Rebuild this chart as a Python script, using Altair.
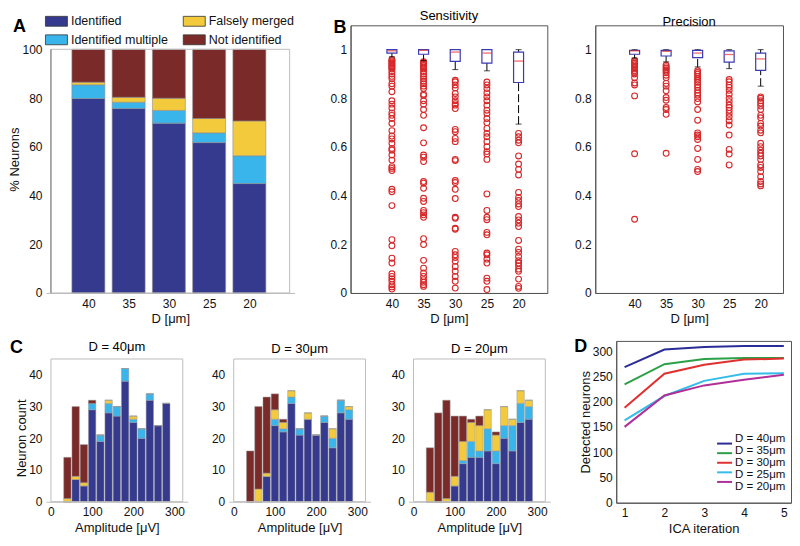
import altair as alt
import pandas as pd

FONT = "Liberation Sans"

# ---------------- data ----------------
D_LABELS = ["40", "35", "30", "25", "20"]
CATS = ["Identified", "Identified multiple", "Falsely merged", "Not identified"]
CAT_COLORS = ["#353a8e", "#3ab5ec", "#f2ca3b", "#7a2b29"]

# Panel A (% neurons)
A_IDENT = [79.8, 75.7, 69.7, 61.7, 44.9]
A_MULTI = [5.6, 2.6, 5.2, 4.0, 11.4]
A_MERGED = [1.1, 2.0, 5.0, 5.9, 14.3]
A_NOTID = [13.5, 19.7, 20.1, 28.4, 29.4]

# Panel B sensitivity boxplots
SENS_Q1 = [0.986, 0.981, 0.952, 0.945, 0.865]
SENS_MED = [0.995, 0.997, 0.990, 0.986, 0.953]
SENS_Q3 = [1.0, 1.0, 1.0, 1.0, 0.990]
SENS_LO = [0.970, 0.955, 0.918, 0.913, 0.694]
SENS_HI = [1.0, 1.0, 1.0, 1.0, 1.0]
SENS_OUT = [
    [0.96, 0.955, 0.95, 0.945, 0.94, 0.935, 0.93, 0.925, 0.92, 0.91, 0.90, 0.89, 0.88, 0.86, 0.85,
     0.827, 0.79, 0.776, 0.76, 0.74, 0.73, 0.717, 0.697, 0.667, 0.645, 0.633, 0.615, 0.594, 0.587,
     0.567, 0.546, 0.519, 0.512, 0.503, 0.426, 0.416, 0.359, 0.219, 0.194, 0.143, 0.123, 0.079,
     0.068, 0.058, 0.048, 0.034, 0.025, 0.016],
    [0.95, 0.945, 0.94, 0.935, 0.93, 0.925, 0.92, 0.91, 0.90, 0.89, 0.88, 0.87, 0.86, 0.85, 0.84,
     0.817, 0.812, 0.79, 0.776, 0.754, 0.73, 0.679, 0.617, 0.567, 0.558, 0.54, 0.458, 0.451, 0.43,
     0.389, 0.376, 0.339, 0.33, 0.321, 0.311, 0.223, 0.199, 0.134, 0.102, 0.082, 0.068, 0.055,
     0.044, 0.034, 0.027],
    [0.874, 0.868, 0.855, 0.842, 0.82, 0.806, 0.79, 0.778, 0.772, 0.758, 0.672, 0.663, 0.635, 0.622,
     0.549, 0.544, 0.462, 0.454, 0.426, 0.388, 0.311, 0.307, 0.266, 0.262, 0.171, 0.157, 0.146,
     0.13, 0.109, 0.089, 0.068, 0.048, 0.02],
    [0.867, 0.855, 0.84, 0.822, 0.806, 0.79, 0.772, 0.751, 0.738, 0.717, 0.70, 0.676, 0.656, 0.642,
     0.622, 0.601, 0.581, 0.571, 0.549, 0.407, 0.339, 0.311, 0.301, 0.249, 0.239, 0.164, 0.157,
     0.139, 0.123, 0.061, 0.048, 0.014],
    [0.656, 0.642, 0.628, 0.617, 0.563, 0.53, 0.508, 0.485, 0.413, 0.393, 0.38, 0.366, 0.355, 0.314,
     0.30, 0.287, 0.273, 0.216, 0.18, 0.167, 0.15, 0.133, 0.123, 0.112, 0.098, 0.089, 0.057, 0.027,
     0.019],
]

# Panel B precision boxplots
PREC_Q1 = [0.981, 0.974, 0.967, 0.949, 0.915]
PREC_MED = [0.995, 0.993, 0.986, 0.980, 0.962]
PREC_Q3 = [0.997, 0.997, 0.997, 0.995, 0.986]
PREC_LO = [0.965, 0.950, 0.929, 0.922, 0.850]
PREC_HI = [1.0, 1.0, 1.0, 1.0, 1.0]
PREC_OUT = [
    [0.956, 0.95, 0.944, 0.938, 0.932, 0.926, 0.92, 0.913, 0.906, 0.90, 0.885, 0.863, 0.855, 0.81,
     0.572, 0.303],
    [0.936, 0.93, 0.924, 0.918, 0.912, 0.905, 0.895, 0.885, 0.861, 0.85, 0.831, 0.803, 0.792, 0.762,
     0.754, 0.734, 0.574],
    [0.913, 0.906, 0.899, 0.89, 0.882, 0.874, 0.866, 0.855, 0.845, 0.833, 0.822, 0.813, 0.799, 0.785,
     0.754, 0.71, 0.658, 0.649, 0.642, 0.631, 0.594, 0.549, 0.508, 0.499],
    [0.877, 0.868, 0.855, 0.845, 0.833, 0.817, 0.799, 0.786, 0.772, 0.762, 0.751, 0.738, 0.724, 0.708,
     0.69, 0.649, 0.59, 0.571, 0.526],
    [0.806, 0.8, 0.79, 0.78, 0.768, 0.754, 0.73, 0.72, 0.697, 0.686, 0.669, 0.658, 0.615, 0.601,
     0.587, 0.574, 0.563, 0.549, 0.526, 0.516, 0.499, 0.478, 0.458, 0.448, 0.44],
]

# Panel C histograms (bin centres in µV)
AMP_BINS = [40, 60, 80, 100, 120, 140, 160, 180, 200, 220, 240, 260, 280]
C40_IDENT = [0, 7, 5, 29, 19, 28, 27, 38, 25, 20, 32, 24, 31]
C40_MULTI = [0, 0, 0, 2, 2, 3, 3, 4, 1, 3, 2, 0, 0]
C40_MERGED = [1, 1, 1, 0, 0, 1, 0, 0, 1, 0, 0, 0, 0]
C40_NOTID = [13, 22, 12, 1, 0, 0, 0, 0, 0, 0, 0, 0, 0]
C30_IDENT = [0, 0, 8, 24, 22, 31, 21, 26, 21, 25, 17, 28, 26]
C30_MULTI = [0, 0, 0, 2, 1, 2, 2, 0, 0, 2, 3, 4, 3]
C30_MERGED = [0, 4, 1, 3, 2, 2, 0, 2, 0, 0, 3, 0, 1]
C30_NOTID = [16, 26, 24, 5, 1, 0, 0, 0, 0, 0, 0, 0, 0]
C20_IDENT = [0, 0, 0, 5, 12, 14, 14, 16, 12, 20, 16, 25, 26]
C20_MULTI = [0, 0, 0, 0, 1, 5, 2, 7, 4, 4, 8, 6, 4]
C20_MERGED = [3, 0, 1, 3, 6, 6, 8, 6, 5, 6, 2, 4, 2]
C20_NOTID = [14, 28, 31, 19, 8, 1, 3, 0, 1, 0, 0, 0, 0]

# Panel D
ITER = [1, 2, 3, 4, 5]
D_SERIES = ["D = 40μm", "D = 35μm", "D = 30μm", "D = 25μm", "D = 20μm"]
D_COLORS = ["#2b2d96", "#2ca048", "#e0302f", "#34bde9", "#b0309a"]
D40 = [268, 303, 308, 310, 310]
D35 = [234, 274, 284, 286, 286]
D30 = [188, 255, 273, 283, 285]
D25 = [163, 211, 241, 255, 256]
D20 = [150, 212, 232, 243, 253]

RED = "#d7282a"
BOXBLUE = "#3b3bb3"
LIGHT = "#bdbdbd"
DARK = "#555555"

label_expr = "[" + ",".join("'%s'" % d for d in D_LABELS) + "][datum.value - 1]"
cat_scale = alt.Scale(domain=CATS, range=CAT_COLORS)


def letter(ch, dx, dy):
    return alt.Chart(pd.DataFrame({"t": [ch]})).mark_text(
        font=FONT, fontSize=18, fontWeight="bold", align="left", baseline="alphabetic", color="black"
    ).encode(x=alt.value(dx), y=alt.value(dy), text="t:N")


def frame(xdom, ydom, xs, xa, ys, ya, color, left_color=None):
    df = pd.DataFrame({"x0": [xdom[0]], "x1": [xdom[1]], "y0": [ydom[0]], "y1": [ydom[1]]})
    rect = alt.Chart(df).mark_rect(fillOpacity=0, stroke=color, strokeWidth=1).encode(
        x=alt.X("x0:Q", scale=xs, axis=xa), x2="x1:Q",
        y=alt.Y("y0:Q", scale=ys, axis=ya), y2="y1:Q")
    out = [rect]
    if left_color is not None:
        out.append(alt.Chart(df).mark_rule(color=left_color, strokeWidth=1).encode(
            x=alt.X("x0:Q", scale=xs, axis=xa),
            y=alt.Y("y0:Q", scale=ys, axis=ya), y2="y1:Q"))
    return out


# ---------------- Panel A ----------------
A_XDOM = [0.07, 6.0]
dfA = pd.DataFrame([
    {"pos": i + 1, "cat": c, "k": k, "v": vals[i]}
    for k, (c, vals) in enumerate(zip(CATS, [A_IDENT, A_MULTI, A_MERGED, A_NOTID]))
    for i in range(5)
])
xsA = alt.Scale(domain=A_XDOM, nice=False, zero=False)
xaA = alt.Axis(values=[1, 2, 3, 4, 5], labelExpr=label_expr, title="D [μm]",
               domainColor=LIGHT, labelPadding=6, titlePadding=3)
ysA = alt.Scale(domain=[0, 109.84], nice=False)
yaA = alt.Axis(values=[0, 20, 40, 60, 80, 100], title="% Neurons", domain=False,
               titlePadding=0, titleY=134)
barsA = alt.Chart(dfA).mark_bar(size=33, stroke="#8c8c8c", strokeWidth=0.6, orient="vertical").encode(
    x=alt.X("pos:Q", scale=xsA, axis=xaA),
    y=alt.Y("v:Q", stack="zero", scale=ysA, axis=yaA),
    color=alt.Color("cat:N", scale=cat_scale, legend=alt.Legend(
        title=None, orient="none", legendX=-1, legendY=-16, padding=0, columns=2,
        columnPadding=12, rowPadding=0, symbolType="M-1,-0.45H1V0.45H-1Z", symbolSize=484,
        symbolStrokeColor="#333", symbolStrokeWidth=0.8, labelFontSize=12.5, labelFont=FONT,
        labelOffset=3, symbolOpacity=1)),
    order=alt.Order("k:Q"),
)
panelA = alt.layer(barsA, *frame(A_XDOM, [0, 100], xsA, xaA, ysA, yaA, LIGHT, "#777"),
                   letter("A", -33, 7)).properties(
    width=249, height=268, view=alt.ViewBackground(stroke=None))


# ---------------- Panel B ----------------
def box_panel(title, q1, med, q3, lo, hi, outs, domain, width, let=None):
    dfb = pd.DataFrame({"pos": [1, 2, 3, 4, 5], "q1": q1, "med": med, "q3": q3, "lo": lo, "hi": hi})
    dfo = pd.DataFrame([{"pos": i + 1, "val": v} for i, lst in enumerate(outs) for v in lst])
    xs = alt.Scale(domain=domain, nice=False, zero=False)
    xa = alt.Axis(values=[1, 2, 3, 4, 5], labelExpr=label_expr, title="D [μm]", domainColor=DARK,
                  labelPadding=6, titlePadding=3)
    ys = alt.Scale(domain=[0, 1.1], nice=False)
    ya = alt.Axis(values=[0, 0.2, 0.4, 0.6, 0.8, 1.0], format="~g", title=None, domainColor=DARK)
    X = alt.X("pos:Q", scale=xs, axis=xa)
    base = alt.Chart(dfb)
    outl = alt.Chart(dfo).mark_point(shape="circle", filled=False, color=RED, size=34,
                                     strokeWidth=1.1, opacity=1).encode(
        x=X, y=alt.Y("val:Q", scale=ys, axis=ya))
    wlo = base.mark_rule(color="black", strokeWidth=1, strokeDash=[8, 3]).encode(
        x=X, y=alt.Y("lo:Q", scale=ys, axis=ya), y2="q1:Q")
    whi = base.mark_rule(color="black", strokeWidth=1, strokeDash=[8, 3]).encode(
        x=X, y=alt.Y("q3:Q", scale=ys, axis=ya), y2="hi:Q")
    cap_lo = base.mark_tick(orient="horizontal", size=6, thickness=1, color="black").encode(
        x=X, y=alt.Y("lo:Q", scale=ys, axis=ya))
    cap_hi = base.mark_tick(orient="horizontal", size=6, thickness=1, color="black").encode(
        x=X, y=alt.Y("hi:Q", scale=ys, axis=ya))
    box = base.mark_bar(size=10, fill="white", stroke=BOXBLUE, strokeWidth=1.2, orient="vertical").encode(
        x=X, y=alt.Y("q1:Q", scale=ys, axis=ya), y2="q3:Q")
    medm = base.mark_tick(orient="horizontal", size=9, thickness=1.3, color="#e8302e").encode(
        x=X, y=alt.Y("med:Q", scale=ys, axis=ya))
    layers = [outl, wlo, whi, cap_lo, cap_hi, box, medm]
    if let is not None:
        layers.append(let)
    return alt.layer(*layers).properties(
        width=width, height=268,
        title=alt.TitleParams(title, font=FONT, fontSize=13, fontWeight="normal", offset=-4))


panelBs = box_panel("Sensitivity", SENS_Q1, SENS_MED, SENS_Q3, SENS_LO, SENS_HI, SENS_OUT,
                    [-0.148, 5.75], 197, letter("B", -17, 8))
panelBp = box_panel("Precision", PREC_Q1, PREC_MED, PREC_Q3, PREC_LO, PREC_HI, PREC_OUT,
                    [-0.09, 5.55], 188)


# ---------------- Panel C ----------------
C_XDOM = [0, 320]


def hist_panel(title, ident, multi, merged, notid, ytitle, let=None):
    df = pd.DataFrame([
        {"amp": AMP_BINS[i], "cat": c, "k": k, "n": vals[i]}
        for k, (c, vals) in enumerate(zip(CATS, [ident, multi, merged, notid]))
        for i in range(len(AMP_BINS))
    ])
    xs = alt.Scale(domain=C_XDOM, nice=False, zero=False)
    xa = alt.Axis(values=[0, 100, 200, 300], title="Amplitude [μV]", domainColor=LIGHT,
                  labelPadding=5, titlePadding=4)
    ys = alt.Scale(domain=[0, 50.7], nice=False)
    ya = alt.Axis(values=[0, 10, 20, 30, 40], title=ytitle, domain=False, titlePadding=0, titleY=97)
    bars = alt.Chart(df).mark_bar(size=7.4, stroke="#9a9a9a", strokeWidth=0.5, orient="vertical").encode(
        x=alt.X("amp:Q", scale=xs, axis=xa),
        y=alt.Y("n:Q", stack="zero", scale=ys, axis=ya),
        color=alt.Color("cat:N", scale=cat_scale, legend=None),
        order=alt.Order("k:Q"),
    )
    layers = [bars] + frame(C_XDOM, [0, 45], xs, xa, ys, ya, LIGHT)
    if let is not None:
        layers.append(let)
    return alt.layer(*layers).properties(
        width=142, height=161, view=alt.ViewBackground(stroke=None),
        title=alt.TitleParams(title, font=FONT, fontSize=13, fontWeight="normal", offset=-15,
                              frame="group"))


panelC1 = hist_panel("D = 40μm", C40_IDENT, C40_MULTI, C40_MERGED, C40_NOTID, "Neuron count",
                     letter("C", -36, 12))
panelC2 = hist_panel("D = 30μm", C30_IDENT, C30_MULTI, C30_MERGED, C30_NOTID, None)
panelC3 = hist_panel("D = 20μm", C20_IDENT, C20_MULTI, C20_MERGED, C20_NOTID, None)

# ---------------- Panel D ----------------
dfD = pd.DataFrame([
    {"it": it, "n": v, "s": s}
    for s, vals in zip(D_SERIES, [D40, D35, D30, D25, D20])
    for it, v in zip(ITER, vals)
])
d_color = alt.Scale(domain=D_SERIES, range=D_COLORS)
linesD = alt.Chart(dfD).mark_line(strokeWidth=2).encode(
    x=alt.X("it:Q", scale=alt.Scale(domain=[0.79, 5.18], nice=False, zero=False),
            axis=alt.Axis(values=ITER, format="d", title="ICA iteration", domainColor=DARK,
                          labelPadding=5, titlePadding=4)),
    y=alt.Y("n:Q", scale=alt.Scale(domain=[0, 320], nice=False),
            axis=alt.Axis(values=[0, 50, 100, 150, 200, 250, 300], title="Detected neurons",
                          domainColor=DARK, titlePadding=0)),
    color=alt.Color("s:N", scale=d_color, legend=None),
)
# legend drawn from the series list: one row per series
dfLeg = pd.DataFrame({"s": D_SERIES})
leg_y = alt.Y("s:N", scale=alt.Scale(domain=D_SERIES, range=[98, 146], padding=0), axis=None)
legLines = alt.Chart(dfLeg).mark_rule(strokeWidth=2).encode(
    x=alt.value(101), x2=alt.value(116), y=leg_y, color=alt.Color("s:N", scale=d_color, legend=None))
legText = alt.Chart(dfLeg).mark_text(font=FONT, fontSize=11.5, align="left", baseline="middle",
                                     color="#111").encode(x=alt.value(119), y=leg_y, text="s:N")
panelD = alt.layer(linesD, legLines, legText, letter("D", -42, 11)).resolve_scale(
    y="independent").properties(width=175, height=162)

# ---------------- layout ----------------
top = alt.hconcat(
    panelA,
    alt.hconcat(panelBs, panelBp, spacing=25).resolve_scale(color="independent"),
    spacing=34,
).resolve_scale(color="independent")

bottom = alt.hconcat(
    panelC1,
    alt.hconcat(panelC2, panelC3, spacing=20).resolve_scale(color="independent"),
    panelD,
    spacing=23,
).resolve_scale(color="independent")

chart = alt.vconcat(top, bottom, spacing=10).resolve_scale(color="independent").properties(
    padding={"left": 0, "top": 1, "right": 0, "bottom": 0}
).configure_axis(
    labelFont=FONT, titleFont=FONT, labelFontSize=12, titleFontSize=13, titleFontWeight="normal",
    labelColor="#111", titleColor="#111", grid=False, ticks=False, labelPadding=4,
).configure_view(stroke=DARK, strokeWidth=1).configure_legend(labelColor="#111")

chart.save("out.html", embed_options={"renderer": "svg", "actions": False})
